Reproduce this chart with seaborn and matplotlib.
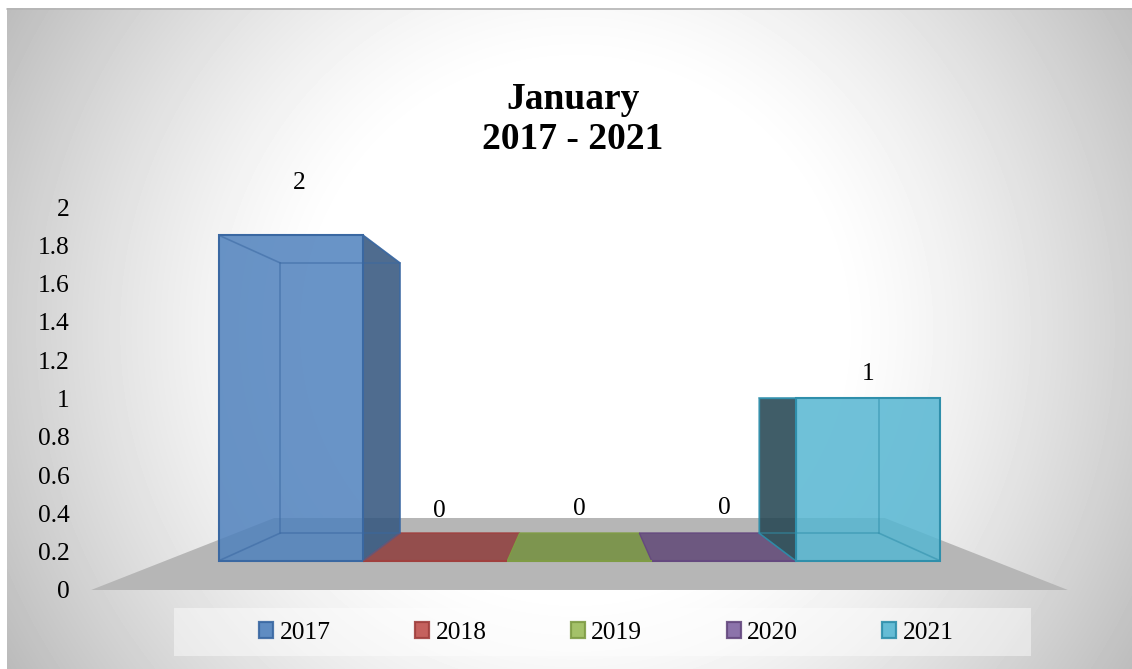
import numpy as np
import seaborn as sns
import matplotlib.pyplot as plt
from matplotlib.patches import Patch, Polygon, Rectangle

years = ['2017', '2018', '2019', '2020', '2021']
values = [2, 0, 0, 0, 1]
tick_values = [0, 0.2, 0.4, 0.6, 0.8, 1, 1.2, 1.4, 1.6, 1.8, 2]
tick_labels = ['0', '0.2', '0.4', '0.6', '0.8', '1', '1.2', '1.4', '1.6', '1.8', '2']
title = 'January\n2017 - 2021'

colors = ['#4F81BD', '#C0504D', '#9BBB59', '#8064A2', '#56B6D2']
edges = ['#3A68A2', '#A0403E', '#7F9C45', '#65497F', '#2F8FAB']
sides = ['#365880', '#6E3534', '#55682F', '#47385E', '#254753']
floors = ['#5F8ABF', '#944E4D', '#7D954F', '#6D5880', '#5AAFC8']
# label offsets in pixels from the top of each bar
label_dx = [8, 4, 0, 1, 0]
label_dy = [52, 50, 52, 53, 24]

W, H = 1132, 669
BACK = 0.83
px_per_cat, px_per_val = 144.2, 162.7

sns.set_theme(style='white')
plt.rcParams['font.family'] = ['Liberation Serif', 'DejaVu Serif']

fig = plt.figure(figsize=(W / 100, H / 100), dpi=100)

# background: radial grey to white, panel for the legend
bg = fig.add_axes([0, 0, 1, 1], zorder=0)
yy, xx = np.mgrid[0:H, 0:W]
r = np.hypot(xx - 575, yy - 330)
shade = (255 - 67 * (np.clip(r - 260, 0, None) / 394) ** 1.3) / 255
shade[:8, :] = 1
shade[:, :7] = 1
bg.imshow(shade, cmap='gray', vmin=0, vmax=1, extent=(0, W, H, 0), aspect='auto')
bg.plot([7, W], [8.5, 8.5], color='#B4B4B4', lw=1.2)
bg.add_patch(Rectangle((174, 608), 857, 48, fc='white', alpha=0.45, ec='none'))
bg.set_xlim(0, W)
bg.set_ylim(H, 0)
bg.axis('off')

left = 75
ax = fig.add_axes([left / W, 0, 1 - left / W, 1], zorder=1)
ax.patch.set_visible(False)


def project(e, v, f):
    # perspective: everything shrinks towards the vanishing point (2, 1)
    return 2 + (e - 2) * f, 1 + (v - 1) * f


# floor
floor = [project(-0.87, 0, 1.18), project(4.87, 0, 1.18),
         project(4.87, 0, 0.7375), project(-0.87, 0, 0.7375)]
ax.add_patch(Polygon(floor, fc='#B6B6B6', ec='none', zorder=1))

for i, v in enumerate(values):
    l, r_ = i - 0.5, i + 0.5
    if v == 0:
        base = [project(l, 0, 1), project(r_, 0, 1), project(r_, 0, BACK), project(l, 0, BACK)]
        ax.add_patch(Polygon(base, fc=floors[i], ec=edges[i], lw=1, zorder=2))
        continue
    # dark side on the side facing the middle of the chart
    e = r_ if i < 2 else l
    side = [project(e, 0, 1), project(e, v, 1), project(e, v, BACK), project(e, 0, BACK)]
    ax.add_patch(Polygon(side, fc=sides[i], ec=edges[i], alpha=0.88, lw=1, zorder=2))
    # back edges of the box
    corners = [project(l, 0, BACK), project(r_, 0, BACK), project(r_, v, BACK), project(l, v, BACK)]
    ax.add_patch(Polygon(corners, fc='none', ec=edges[i], alpha=0.55, lw=1.2, zorder=5))
    for c, ee, vv in [(corners[0], l, 0), (corners[1], r_, 0), (corners[2], r_, v), (corners[3], l, v)]:
        fx, fy = project(ee, vv, 1)
        ax.plot([fx, c[0]], [fy, c[1]], color=edges[i], alpha=0.55, lw=1.2, zorder=5)

sns.barplot(x=years, y=values, hue=years, palette=colors, saturation=1, width=1,
            alpha=0.85, legend=False, ax=ax, zorder=3)
for cont, ec in zip(ax.containers, edges):
    for bar in cont:
        # keep the outline opaque while the fill stays see-through
        fc = bar.get_facecolor()
        bar.set_alpha(None)
        bar.set_facecolor(fc)
        bar.set_edgecolor(ec)
        bar.set_linewidth(1.5)

# axes limits set so one category and one value unit have a fixed pixel size
x0 = -0.5 - (219 - left) / px_per_cat
ax.set_xlim(x0, x0 + (W - left) / px_per_cat)
ax.set_ylim((560.7 - H) / px_per_val, 560.7 / px_per_val)

# value axis runs on a steeper scale than the bars (front of the floor up to the top)
ax.set_yticks([(-29.3 + 191.5 * t) / px_per_val for t in tick_values])
ax.set_yticklabels(tick_labels, fontsize=18.4, color='black')
ax.tick_params(axis='y', length=0, pad=4)
ax.set_xticks([])
ax.set_xlabel('')
ax.set_ylabel('')
sns.despine(ax=ax, left=True, bottom=True)

for i, v in enumerate(values):
    ax.annotate(str(v), (i, v), xytext=(label_dx[i], label_dy[i]), textcoords='offset pixels',
                ha='center', va='center', fontsize=18.4, color='black', zorder=6)

fig.text(573 / W, 1 - 119.5 / H, title, ha='center', va='center', fontsize=27,
         fontweight='bold', color='black', linespacing=1.2, zorder=3)

handles = [Patch(fc=c, ec=e, lw=1.6, alpha=0.9, label=y) for c, e, y in zip(colors, edges, years)]
fig.legend(handles=handles, loc='center', bbox_to_anchor=(606.5 / W, 1 - 633 / H), ncol=5,
           frameon=False, fontsize=18.4, handlelength=0.55, handleheight=0.55,
           handletextpad=0.25, columnspacing=3.3, labelcolor='black')

fig.savefig('out.png', dpi=100)
